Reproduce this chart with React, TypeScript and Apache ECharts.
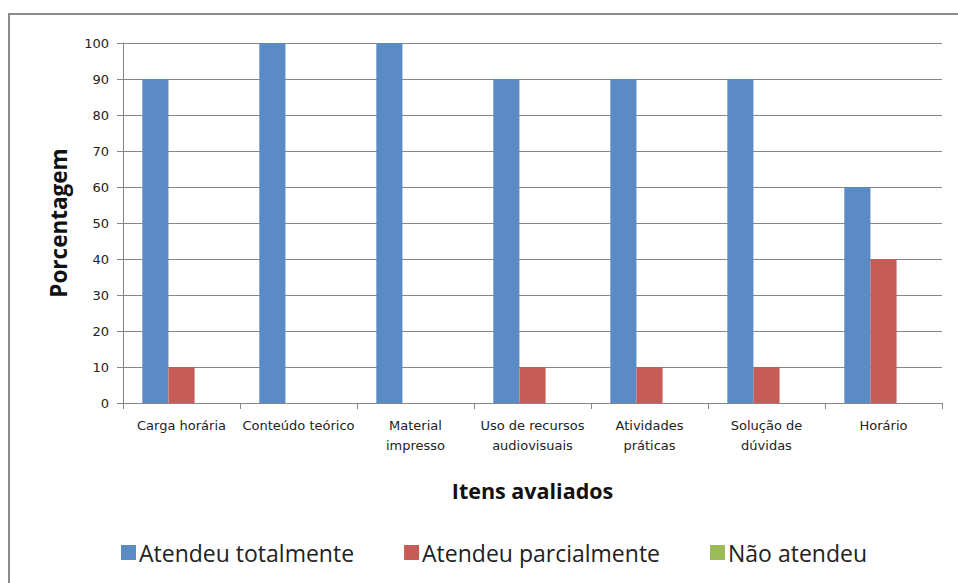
import React, { useEffect, useRef } from "react";
import * as echarts from "echarts";

const categories = [
  "Carga horária",
  "Conteúdo teórico",
  "Material\nimpresso",
  "Uso de recursos\naudiovisuais",
  "Atividades\npráticas",
  "Solução de\ndúvidas",
  "Horário",
];
const totalmente = [90, 100, 100, 90, 90, 90, 60];
const parcialmente = [10, 0, 0, 10, 10, 10, 40];
const naoAtendeu = [0, 0, 0, 0, 0, 0, 0];
const seriesNames = ["Atendeu totalmente", "Atendeu parcialmente", "Não atendeu"];
const colors = ["#5B8BC5", "#C75B58", "#9BBB59"];

export default function App() {
  const ref = useRef<HTMLDivElement>(null);
  useEffect(() => {
    if (!ref.current) return;
    const chart = echarts.init(ref.current, undefined, { renderer: "svg" });
    const tickFont = "'DejaVu Sans', sans-serif";
    const bigFont = "'Open Sans', sans-serif";
    chart.setOption({
      animation: false,
      color: colors,
      textStyle: { fontFamily: tickFont },
      graphic: [
        {
          type: "rect",
          shape: { x: 9, y: 14, width: 980, height: 600 },
          style: { fill: "none", stroke: "#8c8c8c", lineWidth: 2 },
          silent: true,
        },
      ],
      grid: { left: 123, right: 16, top: 43, bottom: 180, containLabel: false },
      legend: {
        left: 116,
        top: 536,
        itemWidth: 15,
        itemHeight: 15,
        itemGap: 50,
        icon: "rect",
        textStyle: { fontSize: 23, color: "#222", fontFamily: bigFont, padding: [0, 0, 0, -2] },
        data: seriesNames,
      },
      xAxis: {
        type: "category",
        data: categories,
        name: "Itens avaliados",
        nameLocation: "middle",
        nameGap: 76,
        nameTextStyle: { fontSize: 21.5, fontWeight: "bold", color: "#111", fontFamily: bigFont },
        axisLine: { lineStyle: { color: "#868686" } },
        axisTick: { show: true, length: 6, lineStyle: { color: "#868686" } },
        axisLabel: { fontSize: 13, color: "#222", margin: 12, lineHeight: 20, interval: 0 },
      },
      yAxis: {
        type: "value",
        min: 0,
        max: 100,
        interval: 10,
        name: "Porcentagem",
        nameLocation: "middle",
        nameGap: 53,
        nameTextStyle: { fontSize: 22.5, fontWeight: "bold", color: "#111", fontFamily: bigFont },
        axisLine: { show: true, lineStyle: { color: "#868686" } },
        axisTick: { show: true, length: 6, lineStyle: { color: "#868686" } },
        splitLine: { lineStyle: { color: "#868686" } },
        axisLabel: { fontSize: 13, color: "#222", margin: 14 },
      },
      series: [
        { name: seriesNames[0], type: "bar", data: totalmente, barGap: "0%", barCategoryGap: "33%" },
        { name: seriesNames[1], type: "bar", data: parcialmente, barGap: "0%", barCategoryGap: "33%" },
        { name: seriesNames[2], type: "bar", data: naoAtendeu, barGap: "0%", barCategoryGap: "33%" },
      ],
    });
    return () => chart.dispose();
  }, []);
  return <div ref={ref} style={{ width: 958, height: 583, position: "absolute", left: 0, top: 0, background: "#fff" }} />;
}
